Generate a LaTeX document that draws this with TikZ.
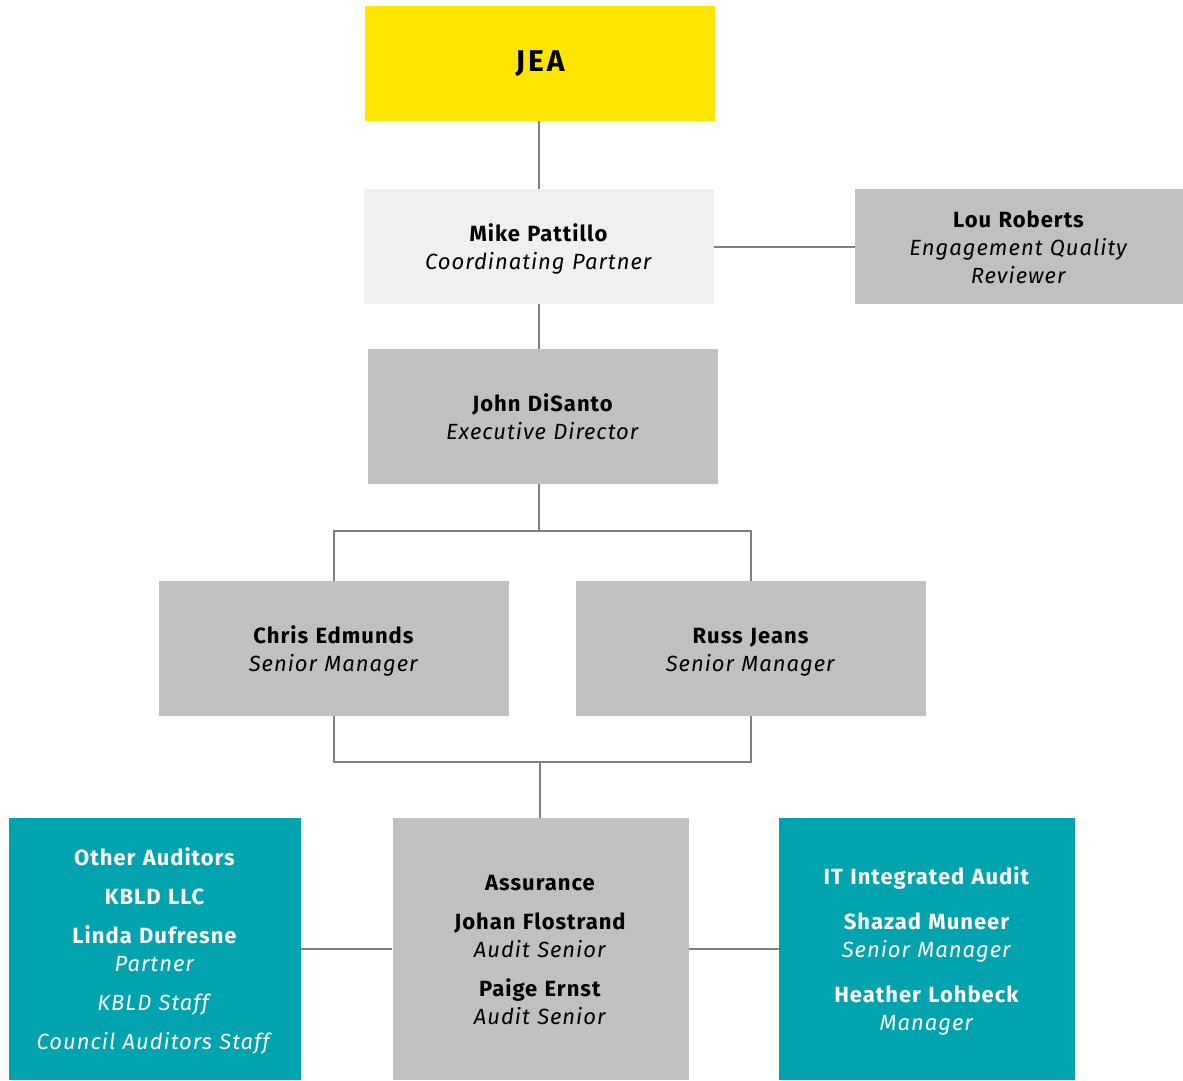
\documentclass[tikz,border=0pt]{standalone}
\usepackage{fontspec}
\setmainfont{Fira Sans}[LetterSpace=4.5]
\usetikzlibrary{positioning}
\definecolor{eyyellow}{HTML}{FFE600}
\definecolor{lightbox}{HTML}{F0F0F0}
\definecolor{greybox}{HTML}{C0C0C0}
\definecolor{tealbox}{HTML}{00A3AE}
\definecolor{linkgrey}{HTML}{808080}
\newcommand{\lowstrut}{\rule{0pt}{\dimexpr.7\baselineskip+3pt\relax}}
\begin{document}
\begin{tikzpicture}[x=0.5pt,y=-0.5pt,every node/.style={font=\fontsize{11}{14}\selectfont},plain/.style={inner sep=0pt,align=center,minimum height=57.5pt,minimum width=175pt},box/.style={plain,execute at begin node=\lowstrut,execute at end node=\strut},wide/.style={box,minimum width=175pt,text width=172pt},tall/.style={wide,minimum height=67.5pt},team/.style={box,minimum height=131pt,minimum width=148pt,text width=146pt},link/.style={draw=linkgrey,line width=1pt}]
\useasboundingbox (0,0) rectangle (1183,1081);
\node[plain,fill=eyyellow,font=\fontsize{15}{18}\selectfont\bfseries\addfontfeature{LetterSpace=10}] (jea) at (540,63.5) {JEA};
\node[wide,fill=lightbox] (mike) at (539,246.5) {\textbf{Mike Pattillo}\\\textit{Coordinating Partner}};
\node[box,fill=greybox,minimum width=164pt,text width=162pt] (lou) at (1019,246.5) {\textbf{Lou Roberts}\\\textit{Engagement Quality}\\\textit{Reviewer}};
\node[tall,fill=greybox] (john) at (543,416.5) {\textbf{John DiSanto}\\\textit{Executive Director}};
\node[tall,fill=greybox] (chris) at (334,648.5) {\textbf{Chris Edmunds}\\\textit{Senior Manager}};
\node[tall,fill=greybox] (russ) at (751,648.5) {\textbf{Russ Jeans}\\\textit{Senior Manager}};
\node[team,fill=tealbox,text=white,minimum width=146pt] (other) at (155,949) {\textbf{Other Auditors}\\[5.5pt]\textbf{KBLD LLC}\\[5.5pt]\textbf{Linda Dufresne}\\\textit{Partner}\\[5.5pt]\textit{KBLD Staff}\\[5.5pt]\textit{Council Auditors Staff}};
\node[team,fill=greybox] (assur) at (540.5,949) {\textbf{Assurance}\\[5.5pt]\textbf{Johan Flostrand}\\\textit{Audit Senior}\\[5.5pt]\textbf{Paige Ernst}\\\textit{Audit Senior}};
\node[team,fill=tealbox,text=white] (itaudit) at (927,949) {\textbf{IT Integrated Audit}\\[8.5pt]\textbf{Shazad Muneer}\\\textit{Senior Manager}\\[8.5pt]\textbf{Heather Lohbeck}\\\textit{Manager}};
% connectors
\coordinate (top bus) at (539,531);\coordinate (low bus) at (540,762);
\draw[link] (jea.south-|mike.south)--(mike.north);
\draw[link] (mike.east)--(lou.west);
\draw[link] (mike.south)--(mike.south|-john.north);
\draw[link] (top bus|-john.south)--(top bus);
\draw[link] (chris.north)|-(top bus)-|(russ.north);
\draw[link] (chris.south)|-(low bus)-|(russ.south);
\draw[link] (low bus)--(low bus|-assur.north);
\draw[link] (other.east)--(assur.west);
\draw[link] (assur.east)--(itaudit.west);
\end{tikzpicture}
\end{document}
